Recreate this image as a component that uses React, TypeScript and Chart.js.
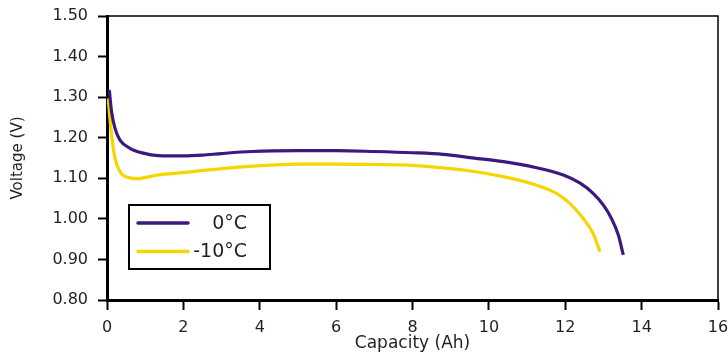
import React, { useEffect, useRef } from "react";
import Chart from "chart.js/auto";

const cap0C = [0.06, 0.12, 0.21, 0.34, 0.6, 0.95, 1.34, 2.0, 2.5, 3.0, 3.8, 5.0, 6.0, 7.0, 8.0, 8.8, 9.5, 10.38, 11.25, 11.95, 12.39, 12.73, 13.0, 13.21, 13.39, 13.52];
const volt0C = [1.318, 1.264, 1.223, 1.194, 1.174, 1.162, 1.156, 1.155, 1.157, 1.161, 1.166, 1.168, 1.168, 1.166, 1.163, 1.159, 1.151, 1.141, 1.126, 1.108, 1.088, 1.063, 1.034, 1.001, 0.96, 0.911];

const capM10C = [0.03, 0.12, 0.21, 0.34, 0.6, 0.8, 0.95, 1.34, 2.0, 3.0, 3.8, 5.0, 6.0, 7.0, 7.7, 8.5, 9.51, 10.38, 11.25, 11.77, 12.12, 12.47, 12.73, 12.91];
const voltM10C = [1.297, 1.207, 1.149, 1.116, 1.101, 1.099, 1.101, 1.108, 1.114, 1.124, 1.13, 1.135, 1.135, 1.134, 1.133, 1.128, 1.118, 1.104, 1.083, 1.063, 1.038, 1.001, 0.964, 0.919];

const seriesLabels = ["0°C", "-10°C"];
const seriesColors = ["#3b1a7e", "#f7d500"];
const xTitle = "Capacity (Ah)";
const yTitle = "Voltage (V)";

const TEXT = "#231f20";
const FONT = "'DejaVu Sans', sans-serif";

const framePlugin = {
  id: "frame",
  afterDraw(chart: any) {
    const { ctx, chartArea } = chart;
    const { left, top, right, bottom } = chartArea;
    ctx.save();
    ctx.strokeStyle = "#000";
    ctx.lineWidth = 1.5;
    ctx.beginPath();
    ctx.moveTo(left, top);
    ctx.lineTo(right, top);
    ctx.lineTo(right, bottom);
    ctx.stroke();

    // legend box
    const bx = left + 22;
    const by = top + 189;
    const bw = 141;
    const bh = 64;
    ctx.lineWidth = 2;
    ctx.strokeRect(bx, by, bw, bh);
    const rows = [by + 18, by + 46.5];
    ctx.font = `19px ${FONT}`;
    ctx.textAlign = "right";
    ctx.textBaseline = "middle";
    rows.forEach((ry, i) => {
      ctx.strokeStyle = seriesColors[i];
      ctx.lineWidth = 3.5;
      ctx.lineCap = "round";
      ctx.beginPath();
      ctx.moveTo(bx + 9, ry);
      ctx.lineTo(bx + 59, ry);
      ctx.stroke();
      ctx.fillStyle = TEXT;
      ctx.fillText(seriesLabels[i], bx + 118, ry + 1);
    });
    ctx.restore();
  },
};

export default function App() {
  const ref = useRef<HTMLCanvasElement | null>(null);

  useEffect(() => {
    if (!ref.current) return;
    const chart = new Chart(ref.current, {
      type: "line",
      data: {
        datasets: [
          {
            label: seriesLabels[0],
            data: cap0C.map((x, i) => ({ x, y: volt0C[i] })),
            borderColor: seriesColors[0],
            borderWidth: 3.2,
            pointRadius: 0,
            cubicInterpolationMode: "monotone",
            fill: false,
          },
          {
            label: seriesLabels[1],
            data: capM10C.map((x, i) => ({ x, y: voltM10C[i] })),
            borderColor: seriesColors[1],
            borderWidth: 3.2,
            pointRadius: 0,
            cubicInterpolationMode: "monotone",
            fill: false,
          },
        ],
      },
      options: {
        responsive: false,
        animation: false,
        layout: { padding: { top: 16, right: 10, left: 0, bottom: 0 } },
        plugins: {
          legend: { display: false },
          tooltip: { enabled: false },
        },
        scales: {
          x: {
            type: "linear",
            min: 0,
            max: 16,
            afterFit(scale: any) {
              scale.height = 52;
              scale.paddingLeft = 0;
              scale.paddingRight = 0;
            },
            ticks: {
              stepSize: 2,
              color: TEXT,
              font: { family: FONT, size: 16 },
              padding: 8,
              maxRotation: 0,
            },
            grid: {
              display: true,
              drawOnChartArea: false,
              drawTicks: true,
              tickLength: 10,
              tickWidth: 2,
              tickColor: "#000",
            },
            border: { display: true, color: "#000", width: 3 },
            title: {
              display: true,
              text: xTitle,
              color: TEXT,
              font: { family: FONT, size: 17, lineHeight: 1 },
              padding: { top: 0, bottom: 0 },
            },
          },
          y: {
            type: "linear",
            min: 0.8,
            max: 1.5,
            afterFit(scale: any) {
              scale.width = 107;
              scale.paddingTop = 0;
              scale.paddingBottom = 0;
            },
            ticks: {
              stepSize: 0.1,
              color: TEXT,
              font: { family: FONT, size: 16 },
              padding: 10,
              callback: (v: any) => Number(v).toFixed(2),
            },
            grid: {
              display: true,
              drawOnChartArea: false,
              drawTicks: true,
              tickLength: 9,
              tickWidth: 2,
              tickColor: "#000",
            },
            border: { display: true, color: "#000", width: 3 },
            title: {
              display: true,
              text: yTitle,
              color: TEXT,
              font: { family: FONT, size: 15 },
              padding: { top: 9, bottom: 0 },
            },
          },
        },
      },
      plugins: [framePlugin],
    } as any);
    return () => chart.destroy();
  }, []);

  return (
    <div style={{ position: "fixed", left: 0, top: 0, width: 728, height: 352, background: "#fff" }}>
      <canvas ref={ref} width={728} height={352} style={{ display: "block" }} />
    </div>
  );
}
